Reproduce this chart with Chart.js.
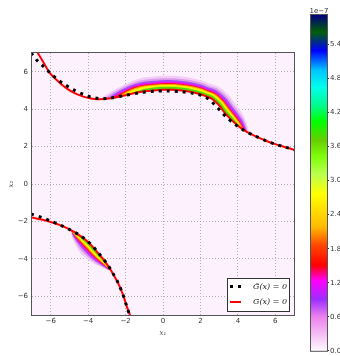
<!DOCTYPE html>
<html><head><meta charset="utf-8">
<script src="https://cdn.jsdelivr.net/npm/chart.js@4/dist/chart.umd.min.js"></script>
<style>
html,body{margin:0;padding:0;background:#fff;}
#wrap{position:relative;width:340px;height:356px;}
#main{position:absolute;left:0;top:0;}
#cbar{position:absolute;left:300px;top:0;}
</style></head><body>
<div id="wrap"><canvas id="main" width="340" height="356"></canvas><canvas id="cbar" width="40" height="356"></canvas></div>
<script>
// ---- tick labels ----
const axisTicks = [-6, -4, -2, 0, 2, 4, 6];
const cbTicks = [0.0, 0.6, 1.2, 1.8, 2.4, 3.0, 3.6, 4.2, 4.8, 5.4];
const cbRange = [0, 5.92];
const legendLabels = ['G\u0303(x) = 0', 'G(x) = 0'];

// ---- G(x)=0 (red) ----
const gUpper = [[-6.75,7.1],[-6.4,6.52],[-6.04,5.92],[-5.6,5.48],[-5.15,5.11],[-4.7,4.84],[-4.26,4.67],[-3.85,4.57],[-3.46,4.53],[-3.0,4.55],[-2.5,4.63],[-2.0,4.74],[-1.5,4.86],[-1.0,4.95],[-0.5,5.0],[0,5.03],[0.5,5.03],[1.0,4.99],[1.5,4.92],[2.0,4.8],[2.4,4.65],[2.65,4.53],[3.0,4.2],[3.3,3.8],[3.6,3.48],[3.9,3.2],[4.1,3.03],[4.3,2.89],[4.6,2.72],[4.9,2.57],[5.5,2.31],[6.0,2.13],[6.5,1.98],[7.05,1.82]];
const gLower = [[-7.05,-1.78],[-6.5,-1.9],[-6.0,-2.03],[-5.5,-2.2],[-5.0,-2.42],[-4.75,-2.56],[-4.5,-2.72],[-4.25,-2.9],[-4.0,-3.1],[-3.75,-3.36],[-3.5,-3.65],[-3.25,-3.95],[-3.0,-4.28],[-2.85,-4.5],[-2.7,-4.75],[-2.4,-5.3],[-2.15,-5.88],[-1.95,-6.5],[-1.75,-7.05]];

// ---- G~(x)=0 (black dotted) ----
const gHatUpper = [[-7.05,7.0],[-6.75,6.62],[-6.48,6.37],[-6.2,6.1],[-5.95,5.85],[-5.68,5.62],[-5.33,5.37],[-4.8,5.04],[-4.26,4.79],[-3.81,4.64],[-3.37,4.56],[-2.83,4.58],[-2.12,4.72],[-1.23,4.88],[-0.5,4.95],[0.2,4.97],[1.0,4.93],[1.6,4.85],[2.0,4.75],[2.3,4.62],[2.5,4.49],[2.78,4.22],[3.1,3.87],[3.4,3.56],[3.7,3.3],[4.0,3.08],[4.3,2.88],[4.9,2.57],[5.5,2.31],[6.0,2.13],[6.5,1.98],[7.05,1.82]];
const gHatLower = [[-7.05,-1.6],[-6.5,-1.78],[-6.04,-1.96],[-5.5,-2.19],[-5.0,-2.43],[-4.5,-2.71],[-4.0,-3.08],[-3.5,-3.62],[-3.0,-4.25],[-2.7,-4.73],[-2.4,-5.28],[-2.15,-5.88],[-1.95,-6.5],[-1.77,-7.05]];

// ---- density contour outer edges (upper band) ----
const upFade = [[-3.4,4.53],[-3.0,4.80],[-2.5,5.08],[-2.0,5.34],[-1.5,5.56],[-1.0,5.70],[-0.5,5.75],[0,5.78],[0.5,5.78],[1.0,5.74],[1.5,5.67],[2.0,5.55],[2.4,5.40],[2.94,5.22],[3.53,4.73],[3.83,4.33],[4.10,3.98],[4.32,3.62],[4.42,3.35],[4.51,3.10],[4.6,2.72]];
const upLilac = [[-3.2,4.54],[-3.0,4.67],[-2.5,4.98],[-2.0,5.24],[-1.5,5.44],[-1.0,5.57],[-0.5,5.62],[0,5.65],[0.5,5.65],[1.0,5.61],[1.5,5.54],[2.0,5.42],[2.4,5.27],[2.89,5.10],[3.44,4.64],[3.74,4.24],[4.01,3.89],[4.25,3.55],[4.37,3.30],[4.46,3.05],[4.52,2.77]];
const upPurple = [[-3.0,4.55],[-2.5,4.88],[-2.0,5.14],[-1.5,5.34],[-1.0,5.47],[-0.5,5.52],[0,5.55],[0.5,5.55],[1.0,5.51],[1.5,5.44],[2.0,5.32],[2.4,5.17],[2.85,5.01],[3.37,4.57],[3.67,4.17],[3.94,3.82],[4.18,3.48],[4.31,3.24],[4.41,3.0],[4.45,2.81]];
const upMagenta = [[-2.8,4.58],[-2.5,4.78],[-2.0,5.04],[-1.5,5.26],[-1.0,5.38],[-0.5,5.43],[0,5.46],[0.5,5.46],[1.0,5.42],[1.5,5.35],[2.0,5.23],[2.4,5.08],[2.81,4.93],[3.30,4.50],[3.60,4.10],[3.88,3.76],[4.13,3.43],[4.26,3.19],[4.37,2.96],[4.4,2.84]];
const upRed = [[-2.6,4.61],[-2.5,4.71],[-2.0,4.98],[-1.5,5.19],[-1.0,5.31],[-0.5,5.36],[0,5.39],[0.5,5.39],[1.0,5.35],[1.5,5.28],[2.0,5.16],[2.4,5.01],[2.79,4.86],[3.25,4.45],[3.55,4.05],[3.83,3.71],[4.08,3.38],[4.22,3.15],[4.34,2.93],[4.35,2.86]];
const upOrange = [[-2.4,4.66],[-2.0,4.92],[-1.5,5.13],[-1.0,5.26],[-0.5,5.31],[0,5.34],[0.5,5.34],[1.0,5.30],[1.5,5.23],[2.0,5.11],[2.4,4.96],[2.77,4.82],[3.22,4.42],[3.52,4.02],[3.80,3.68],[4.05,3.35],[4.19,3.12],[4.3,2.89]];
const upYellow = [[-2.2,4.70],[-2.0,4.84],[-1.5,5.07],[-1.0,5.21],[-0.5,5.26],[0,5.29],[0.5,5.29],[1.0,5.25],[1.5,5.18],[2.0,5.06],[2.4,4.91],[2.75,4.77],[3.18,4.38],[3.48,3.98],[3.76,3.64],[4.01,3.31],[4.15,3.08],[4.2,2.96]];
const upGreen = [[-1.7,4.81],[-1.5,4.92],[-1.0,5.08],[-0.5,5.16],[0,5.19],[0.5,5.19],[1.0,5.15],[1.5,5.08],[2.0,4.96],[2.4,4.81],[2.71,4.68],[3.11,4.31],[3.41,3.91],[3.70,3.58],[3.96,3.26],[4.05,3.07]];

// ---- density contour outer edges (lower band) ----
const lowFade = [[-4.9,-2.47],[-4.876,-2.77],[-4.756,-3.096],[-4.61,-3.374],[-4.474,-3.615],[-4.268,-3.831],[-3.991,-4.066],[-3.661,-4.277],[-3.255,-4.465],[-2.98,-4.583],[-2.78,-4.62]];
const lowLilac = [[-4.9,-2.47],[-4.854,-2.734],[-4.712,-3.032],[-4.548,-3.293],[-4.393,-3.527],[-4.179,-3.75],[-3.907,-3.995],[-3.591,-4.221],[-3.211,-4.433],[-2.958,-4.569],[-2.78,-4.62]];
const lowPurple = [[-4.9,-2.47],[-4.836,-2.704],[-4.676,-2.978],[-4.497,-3.225],[-4.325,-3.453],[-4.105,-3.683],[-3.837,-3.935],[-3.532,-4.174],[-3.175,-4.407],[-2.939,-4.557],[-2.78,-4.62]];
const lowMagenta = [[-4.9,-2.47],[-4.822,-2.68],[-4.646,-2.935],[-4.456,-3.171],[-4.271,-3.394],[-4.046,-3.629],[-3.78,-3.888],[-3.485,-4.137],[-3.146,-4.386],[-2.924,-4.547],[-2.78,-4.62]];
const lowRed = [[-4.9,-2.47],[-4.809,-2.659],[-4.621,-2.897],[-4.42,-3.123],[-4.223,-3.343],[-3.994,-3.582],[-3.731,-3.846],[-3.444,-4.104],[-3.12,-4.367],[-2.911,-4.539],[-2.78,-4.62]];
const lowOrange = [[-4.9,-2.47],[-4.8,-2.644],[-4.602,-2.87],[-4.394,-3.09],[-4.19,-3.306],[-3.957,-3.548],[-3.696,-3.816],[-3.414,-4.081],[-3.102,-4.354],[-2.902,-4.533],[-2.78,-4.62]];
const lowYellow = [[-4.9,-2.47],[-4.79,-2.626],[-4.58,-2.838],[-4.363,-3.049],[-4.149,-3.262],[-3.913,-3.508],[-3.654,-3.781],[-3.379,-4.053],[-3.08,-4.338],[-2.891,-4.526],[-2.78,-4.62]];
const lowGreen = [[-4.9,-2.47],[-4.772,-2.596],[-4.544,-2.784],[-4.312,-2.981],[-4.081,-3.188],[-3.839,-3.441],[-3.584,-3.721],[-3.32,-4.006],[-3.044,-4.312],[-2.872,-4.514],[-2.78,-4.62]];

// ---- styles ----
const levelColors = ['#f3cdf5', '#dc9aef', '#a848f6', '#f010f0', '#ff1414', '#ff9a00', '#f8f400', '#55dd00'];
const cmapPos = [0, 0.102, 0.153, 0.208, 0.255, 0.314, 0.369, 0.467, 0.526, 0.577, 0.627, 0.682, 0.729, 0.784, 0.835, 0.894, 0.949, 1];
const cmapCol = ['#fef8fe','#eb80ed','#9e2dff','#ff00ff','#ff0000','#ff4700','#ffba00','#ffff00','#baff4f','#80ff0a','#66ce00','#00ff00','#00fa8a','#00ffeb','#00c6ff','#0000ff','#005f06','#000080'];

const toPts = a => a.map(([x, y]) => ({x, y}));
function shape(edge, base) {
  const s = edge[0][0], e = edge[edge.length - 1][0];
  const lo = Math.min(s, e), hi = Math.max(s, e);
  const back = base.filter(p => p[0] > lo && p[0] < hi).reverse();
  return toPts(edge.concat(back));
}
const upperEdges = [upFade, upLilac, upPurple, upMagenta, upRed, upOrange, upYellow, upGreen];
const lowerEdges = [lowFade, lowLilac, lowPurple, lowMagenta, lowRed, lowOrange, lowYellow, lowGreen];

const datasets = [];
datasets.push({label: legendLabels[0], data: toPts(gHatUpper), showLine: true, borderColor: '#000', borderWidth: 3, borderDash: [3, 5], borderCapStyle: 'butt', pointRadius: 0, tension: 0.3, order: 0, clip: 0});
datasets.push({label: legendLabels[0], data: toPts(gHatLower), showLine: true, borderColor: '#000', borderWidth: 3, borderDash: [3, 5], borderCapStyle: 'butt', pointRadius: 0, tension: 0.3, order: 0, clip: 0});
datasets.push({label: legendLabels[1], data: toPts(gUpper), showLine: true, borderColor: '#ff0000', borderWidth: 2, pointRadius: 0, tension: 0.3, order: 1, clip: 0});
datasets.push({label: legendLabels[1], data: toPts(gLower), showLine: true, borderColor: '#ff0000', borderWidth: 2, pointRadius: 0, tension: 0.3, order: 1, clip: 0});
upperEdges.forEach((edge, k) => {
  datasets.push({label: 'density', data: shape(edge, gUpper), showLine: true, fill: 'shape', backgroundColor: levelColors[k], borderColor: 'rgba(0,0,0,0)', borderWidth: 0, pointRadius: 0, tension: 0.25, order: 20 - k, clip: 0});
});
lowerEdges.forEach((edge, k) => {
  datasets.push({label: 'density', data: shape(edge, gLower), showLine: true, fill: 'shape', backgroundColor: levelColors[k], borderColor: 'rgba(0,0,0,0)', borderWidth: 0, pointRadius: 0, tension: 0.25, order: 20 - k, clip: 0});
});

const fmt = v => (v < 0 ? '\u2212' + Math.abs(v) : String(v));
const tickFont = {family: 'DejaVu Sans', size: 7};

const decor = {
  id: 'decor',
  beforeDraw(chart) {
    const {ctx, chartArea: a} = chart;
    ctx.save();
    ctx.fillStyle = '#fcf1fc';
    ctx.fillRect(a.left, a.top, a.right - a.left, a.bottom - a.top);
    ctx.restore();
  },
  afterDraw(chart) {
    const {ctx, chartArea: a} = chart;
    ctx.save();
    ctx.strokeStyle = '#555';
    ctx.lineWidth = 1;
    ctx.strokeRect(a.left - 0.5, a.top - 0.5, a.right - a.left + 1, a.bottom - a.top + 1);
    // legend
    const bx = a.right - 67, by = a.bottom - 37, bw = 63, bh = 34;
    ctx.fillStyle = '#fff';
    ctx.fillRect(bx, by, bw, bh);
    ctx.strokeStyle = '#333';
    ctx.strokeRect(bx + 0.5, by + 0.5, bw - 1, bh - 1);
    const r1 = by + 8.5, r2 = by + 24;
    ctx.setLineDash([3, 5]);
    ctx.lineCap = 'butt';
    ctx.strokeStyle = '#000';
    ctx.lineWidth = 3;
    ctx.beginPath(); ctx.moveTo(bx + 3, r1); ctx.lineTo(bx + 14, r1); ctx.stroke();
    ctx.setLineDash([]);
    ctx.strokeStyle = '#ff0000';
    ctx.lineWidth = 2;
    ctx.beginPath(); ctx.moveTo(bx + 3, r2); ctx.lineTo(bx + 14, r2); ctx.stroke();
    ctx.fillStyle = '#222';
    ctx.font = 'italic 8px "DejaVu Serif"';
    ctx.textBaseline = 'middle';
    ctx.textAlign = 'left';
    ctx.fillText(legendLabels[0], bx + 26, r1 + 0.5);
    ctx.fillText(legendLabels[1], bx + 26, r2);
    ctx.restore();
  }
};

new Chart(document.getElementById('main'), {
  type: 'scatter',
  data: {datasets},
  options: {
    responsive: false, animation: false, devicePixelRatio: 1, events: [],
    layout: {padding: {top: 53, right: 46, left: 0, bottom: 0}},
    plugins: {legend: {display: false}, tooltip: {enabled: false}},
    scales: {
      x: {
        type: 'linear', min: -7, max: 7,
        afterBuildTicks: s => { s.ticks = axisTicks.map(v => ({value: v})); },
        afterFit: s => { s.height = 41; },
        grid: {color: '#b0b0b0', lineWidth: 1, drawTicks: false},
        border: {display: false, dash: [1, 2]},
        ticks: {font: tickFont, color: '#333', padding: 2, maxRotation: 0, autoSkip: false, callback: v => fmt(v)},
        title: {display: true, text: 'x\u2081', font: {family: 'DejaVu Serif', size: 7, style: 'italic'}, color: '#444', padding: {top: 0, bottom: 19}}
      },
      y: {
        type: 'linear', min: -7, max: 7,
        afterBuildTicks: s => { s.ticks = axisTicks.map(v => ({value: v})); },
        afterFit: s => { s.width = 32; },
        grid: {color: '#b0b0b0', lineWidth: 1, drawTicks: false},
        border: {display: false, dash: [1, 2]},
        ticks: {font: tickFont, color: '#333', padding: 4, autoSkip: false, callback: v => fmt(v)},
        title: {display: true, text: 'x\u2082', font: {family: 'DejaVu Serif', size: 7, style: 'italic'}, color: '#444', padding: {top: 7, bottom: 0}}
      }
    }
  },
  plugins: [decor]
});

// ---- colorbar ----
const cbDecor = {
  id: 'cbDecor',
  afterDraw(chart) {
    const {ctx, chartArea: a} = chart;
    ctx.save();
    ctx.strokeStyle = '#555';
    ctx.lineWidth = 1;
    ctx.strokeRect(a.left - 0.5, a.top - 0.5, a.right - a.left + 1, a.bottom - a.top + 1);
    ctx.fillStyle = '#333';
    ctx.font = '7px "DejaVu Sans"';
    ctx.textAlign = 'center';
    ctx.textBaseline = 'middle';
    ctx.fillText('1e\u22127', (a.left + a.right) / 2, a.top - 4);
    ctx.restore();
  }
};
function cbGradient(context) {
  const chart = context.chart;
  const a = chart.chartArea;
  if (!a) return '#fff';
  const g = chart.ctx.createLinearGradient(0, a.bottom, 0, a.top);
  cmapPos.forEach((p, i) => g.addColorStop(p, cmapCol[i]));
  return g;
}
new Chart(document.getElementById('cbar'), {
  type: 'bar',
  data: {labels: ['density'], datasets: [{data: [cbRange], backgroundColor: cbGradient, borderWidth: 0, barPercentage: 1, categoryPercentage: 1}]},
  options: {
    responsive: false, animation: false, devicePixelRatio: 1, events: [],
    layout: {padding: {left: 11, top: 15, bottom: 4, right: 0}},
    plugins: {legend: {display: false}, tooltip: {enabled: false}},
    scales: {
      x: {display: false},
      y: {
        position: 'right', min: cbRange[0], max: cbRange[1],
        afterBuildTicks: s => { s.ticks = cbTicks.map(v => ({value: v})); },
        afterFit: s => { s.width = 13; },
        grid: {drawOnChartArea: false, drawTicks: true, tickLength: 2, tickColor: '#333'},
        border: {display: false},
        ticks: {font: tickFont, color: '#333', padding: 1, autoSkip: false, callback: v => v.toFixed(1)}
      }
    }
  },
  plugins: [cbDecor]
});
</script>
</body></html>
